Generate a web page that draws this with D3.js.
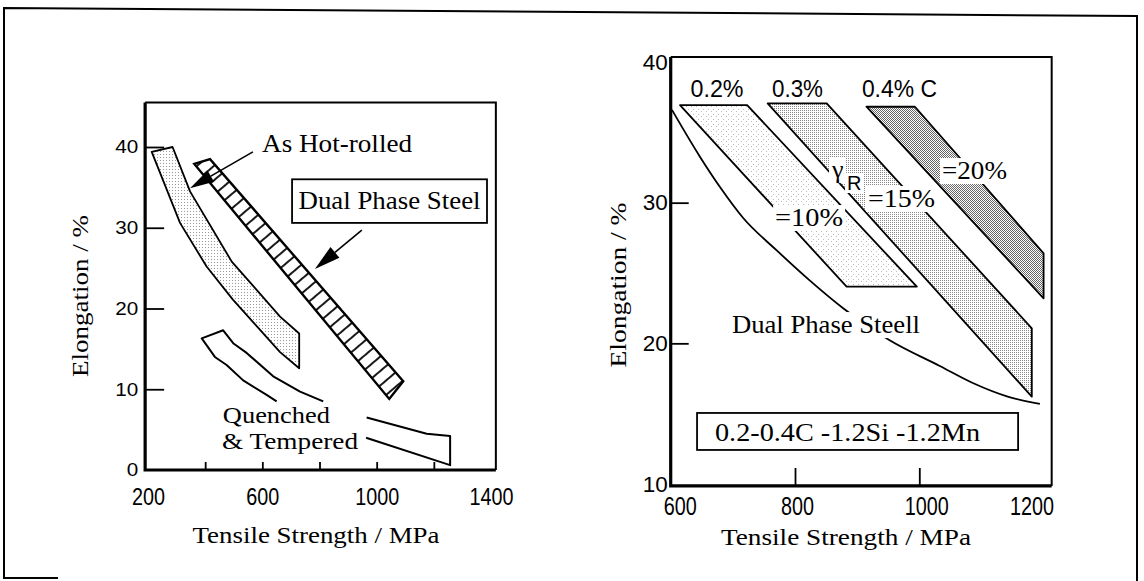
<!DOCTYPE html>
<html>
<head>
<meta charset="utf-8">
<script src="https://cdn.jsdelivr.net/npm/d3@7"></script>
<style>
  body { margin: 0; background: #fff; }
  svg { display: block; }
</style>
</head>
<body>
<div id="chart"></div>
<script>
/**
 * Constants
 */
const width = 1144, height = 581,
    serif = "'Liberation Serif', 'Times New Roman', serif",
    sans = "'Liberation Sans', Arial, sans-serif";

/**
 * Data - left panel (tensile strength MPa, elongation %)
 */
const leftXTicks = [400, 600, 800, 1000, 1200],
    leftXLabels = [200, 600, 1000, 1400],
    leftYTicks = [10, 20, 30, 40],
    leftYLabels = [0, 10, 20, 30, 40];

const hotRolled = [[213, 39.4], [286, 40.0], [347, 34.5], [493, 25.8], [662, 19.0], [729, 16.9],
    [729, 12.6], [662, 14.6], [497, 21.1], [405, 25.2], [312, 30.6]];
const dualPhaseBand = [[362, 37.9], [417, 38.5], [1093, 11.0], [1044, 8.8]];
// quenched & tempered outline is broken by its label, so two open pieces
const quenchedLeft = [[813, 8.5], [732, 9.7], [638, 11.6], [545, 14.5], [498, 15.7], [463, 17.3],
    [388, 16.3], [434, 14.0], [475, 13.0], [533, 11.1], [615, 9.3], [650, 8.5]];
const quenchedRight = [[965, 6.5], [1175, 4.5], [1257, 4.2], [1257, 0.6], [963, 4.0]];

/**
 * Data - right panel
 */
const rightXTicks = [800, 1000],
    rightXLabels = [600, 800, 1000, 1200],
    rightYTicks = [20, 30],
    rightYLabels = [10, 20, 30, 40];

const band02 = [[615, 36.94], [723, 36.94], [996, 24.03], [883, 24.03]];
const band03 = [[756, 37.06], [851, 37.06], [1181, 21.07], [1181, 16.21]];
const band04 = [[915, 36.82], [993, 36.82], [1200, 26.4], [1200, 23.2]];
const dualPhaseCurve = [[602, 36.6], [647, 33.27], [679, 31.13], [717, 28.89], [771, 26.59], [824, 24.46],
    [878, 22.48], [953, 20.2], [1033, 18.39], [1087, 17.16], [1141, 16.23], [1194, 15.69]];

/**
 * Scales
 */
const xL = d3.scaleLinear().domain([200, 1400]).range([148, 491]),
    yL = d3.scaleLinear().domain([0, 40]).range([470, 147]),
    xR = d3.scaleLinear().domain([600, 1200]).range([670.7, 1043.6]),
    yR = d3.scaleLinear().domain([10, 40]).range([484, 62]);

const svg = d3.select("#chart")
    .append("svg")
    .attr("width", width)
    .attr("height", height)
    .style("background", "#fff");

/**
 * Fill patterns (stipple dots + hatch)
 */
const defs = svg.append("defs");
function dotPattern(id, size, cells, color) {
    const p = defs.append("pattern")
        .attr("id", id)
        .attr("patternUnits", "userSpaceOnUse")
        .attr("width", size)
        .attr("height", size);
    p.append("rect").attr("width", size).attr("height", size).attr("fill", "#fff");
    cells.forEach(([cx, cy]) => p.append("rect")
        .attr("x", cx).attr("y", cy)
        .attr("width", 1).attr("height", 1)
        .attr("fill", color));
}
dotPattern("dotsFaint", 5, [[1, 1], [3, 4]], "#bbb");
dotPattern("dotsHot", 3, [[1, 1]], "#999");
dotPattern("dotsMed", 2, [[0, 0]], "#888");
dotPattern("dotsDark", 2, [[0, 0], [1, 1]], "#666");

const hatch = defs.append("pattern")
    .attr("id", "hatch")
    .attr("patternUnits", "userSpaceOnUse")
    .attr("width", 11)
    .attr("height", 11)
    .attr("patternTransform", "rotate(49.6)");
hatch.append("rect").attr("width", 11).attr("height", 11).attr("fill", "#fff");
hatch.append("line")
    .attr("x1", 1).attr("y1", 0).attr("x2", 1).attr("y2", 11)
    .attr("stroke", "#000").attr("stroke-width", 1.8);

/**
 * Outer frame of the figure
 */
svg.append("path")
    .attr("d", "M58,578 H4 V8 L1137,16 V581")
    .attr("fill", "none")
    .attr("stroke", "#000")
    .attr("stroke-width", 2);

/**
 * AXES helper - box, inward ticks and labels
 */
function drawFrame(g, x, y, box, o) {
    const [x0, x1] = box.x.map(x), [y0, y1] = box.y.map(y);
    g.append("path")
        .attr("d", `M${x0},${y1} H${x1} V${y0}`)
        .attr("fill", "none").attr("stroke", "#000").attr("stroke-width", 2);
    g.append("path")
        .attr("d", `M${x0},${y1} V${y0} H${x1}`)
        .attr("fill", "none").attr("stroke", "#000").attr("stroke-width", 3.2);

    // inward tick marks
    const xt = g.append("g")
        .attr("transform", `translate(0,${y0})`)
        .call(d3.axisBottom(x).tickValues(o.xTicks).tickSize(-o.xTickLen).tickFormat(""));
    const yt = g.append("g")
        .attr("transform", `translate(${x0},0)`)
        .call(d3.axisLeft(y).tickValues(o.yTicks).tickSize(-o.yTickLen).tickFormat(""));
    [xt, yt].forEach(s => {
        s.select(".domain").remove();
        s.selectAll("line").attr("stroke-width", 1.8);
    });

    // tick labels (condensed digits, as in the print)
    const xl = g.append("g")
        .attr("transform", `translate(0,${y0})`)
        .call(d3.axisBottom(x).tickValues(o.xLabels).tickSize(0).tickPadding(o.xPad).tickFormat(d3.format("d")));
    xl.select(".domain").remove();
    xl.selectAll("text")
        .attr("font-family", sans).attr("font-size", o.xFont).attr("fill", "#000")
        .attr("dx", (d, i) => o.xNudge ? o.xNudge[i] : 0)
        .attr("textLength", d => String(d).length * o.xDigit)
        .attr("lengthAdjust", "spacingAndGlyphs");

    const yl = g.append("g")
        .attr("transform", `translate(${x0},0)`)
        .call(d3.axisLeft(y).tickValues(o.yLabels).tickSize(0).tickPadding(o.yPad).tickFormat(d3.format("d")));
    yl.select(".domain").remove();
    yl.selectAll("text")
        .attr("font-family", sans).attr("font-size", o.yFont).attr("fill", "#000")
        .attr("textLength", d => String(d).length * o.yDigit)
        .attr("lengthAdjust", "spacingAndGlyphs");
}

function addLabel(g, x, y, s) {
    const holder = g.append("g");
    const bg = holder.append("rect").attr("fill", "#fff");
    const t = holder.append("text")
        .attr("x", x(s.at[0]))
        .attr("y", y(s.at[1]))
        .attr("text-anchor", s.anchor || "start")
        .attr("font-family", s.family || serif)
        .attr("font-size", s.size)
        .attr("fill", "#000")
        .text(s.text);
    if (s.width) t.attr("textLength", s.width).attr("lengthAdjust", "spacingAndGlyphs");
    if (s.mask) {
        const b = t.node().getBBox();
        bg.attr("x", b.x - 2).attr("y", b.y + 2).attr("width", b.width + 4).attr("height", b.height - 3);
    } else bg.remove();
}

function arrow(g, x, y, from, to, len, half) {
    const x1 = x(from[0]), y1 = y(from[1]), x2 = x(to[0]), y2 = y(to[1]);
    const dx = x2 - x1, dy = y2 - y1, d = Math.hypot(dx, dy), ux = dx / d, uy = dy / d;
    const bx = x2 - ux * len, by = y2 - uy * len;
    g.append("line")
        .attr("x1", x1).attr("y1", y1).attr("x2", bx).attr("y2", by)
        .attr("stroke", "#000").attr("stroke-width", 1.6);
    g.append("path")
        .attr("d", `M${x2},${y2} L${bx - uy * half},${by + ux * half} L${bx + uy * half},${by - ux * half} Z`)
        .attr("fill", "#000");
}

/**
 * LEFT PANEL
 */
const gL = svg.append("g");
const lineL = d3.line().x(d => xL(d[0])).y(d => yL(d[1]));

gL.append("path")
    .attr("d", lineL(hotRolled) + "Z")
    .attr("fill", "url(#dotsHot)")
    .attr("stroke", "#000").attr("stroke-width", 1.8).attr("stroke-linejoin", "round");

gL.append("path")
    .attr("d", lineL(dualPhaseBand) + "Z")
    .attr("fill", "url(#hatch)")
    .attr("stroke", "#000").attr("stroke-width", 2.4);

[quenchedLeft, quenchedRight].forEach(pts => gL.append("path")
    .attr("d", lineL(pts))
    .attr("fill", "none")
    .attr("stroke", "#000").attr("stroke-width", 2).attr("stroke-linejoin", "round"));

drawFrame(gL, xL, yL, { x: [190, 1417], y: [0, 45.5] }, {
    xTicks: leftXTicks, xLabels: leftXLabels, yTicks: leftYTicks, yLabels: leftYLabels,
    xTickLen: 8, yTickLen: 19, xPad: 18, yPad: 7, xFont: 24, yFont: 18, xDigit: 11, yDigit: 11.5
});

// "Dual Phase Steel" callout box
gL.append("rect")
    .attr("x", xL(704)).attr("y", yL(36.0))
    .attr("width", xL(1386) - xL(704)).attr("height", yL(30.6) - yL(36.0))
    .attr("fill", "#fff").attr("stroke", "#000").attr("stroke-width", 1.8);

arrow(gL, xL, yL, [567, 39.4], [347, 34.9], 24, 6.5);
arrow(gL, xL, yL, [948, 29.7], [784, 24.9], 26, 7);

[
    { text: "As Hot-rolled", at: [599, 39.4], size: 26, width: 150 },
    { text: "Dual Phase Steel", at: [1045, 32.3], size: 26, width: 182, anchor: "middle" },
    { text: "Quenched", at: [462, 5.8], size: 24, width: 107 },
    { text: "& Tempered", at: [459, 2.6], size: 24, width: 136 }
].forEach(s => addLabel(gL, xL, yL, s));

gL.append("text")
    .attr("transform", "translate(88,296) rotate(-90)")
    .attr("text-anchor", "middle")
    .attr("font-family", serif).attr("font-size", 24)
    .attr("textLength", 162).attr("lengthAdjust", "spacingAndGlyphs")
    .text("Elongation / %");
gL.append("text")
    .attr("x", 316).attr("y", 543)
    .attr("text-anchor", "middle")
    .attr("font-family", serif).attr("font-size", 24)
    .attr("textLength", 247).attr("lengthAdjust", "spacingAndGlyphs")
    .text("Tensile Strength / MPa");

/**
 * RIGHT PANEL
 */
const gR = svg.append("g");
const lineR = d3.line().x(d => xR(d[0])).y(d => yR(d[1]));

[[band02, "url(#dotsFaint)"], [band03, "url(#dotsMed)"], [band04, "url(#dotsDark)"]].forEach(([pts, fill]) =>
    gR.append("path")
        .attr("d", lineR(pts) + "Z")
        .attr("fill", fill)
        .attr("stroke", "#000").attr("stroke-width", 1.8).attr("stroke-linejoin", "round"));

gR.append("path")
    .attr("d", d3.line().x(d => xR(d[0])).y(d => yR(d[1])).curve(d3.curveMonotoneX)(dualPhaseCurve))
    .attr("fill", "none")
    .attr("stroke", "#000").attr("stroke-width", 1.8);

[
    { text: "0.2%", at: [674.5, 37.51], size: 23, family: sans, width: 53, anchor: "middle" },
    { text: "0.3%", at: [804, 37.51], size: 23, family: sans, width: 51, anchor: "middle" },
    { text: "0.4% C", at: [968, 37.51], size: 23, family: sans, width: 75, anchor: "middle" },
    { text: "=10%", at: [768, 28.34], size: 26, width: 68, mask: true },
    { text: "γ", at: [859.5, 31.75], size: 26, mask: true },
    { text: "R", at: [883.7, 30.9], size: 20, family: sans, mask: true },
    { text: "=15%", at: [917.5, 29.69], size: 26, width: 67, mask: true },
    { text: "=20%", at: [1036.5, 31.68], size: 26, width: 65, mask: true },
    { text: "Dual Phase Steell", at: [698.6, 20.73], size: 26, width: 188, mask: true }
].forEach(s => addLabel(gR, xR, yR, s));

drawFrame(gR, xR, yR, { x: [600, 1213], y: [9.86, 40.35] }, {
    xTicks: rightXTicks, xLabels: rightXLabels, yTicks: rightYTicks, yLabels: rightYLabels,
    xTickLen: 18, yTickLen: 18, xPad: 11, yPad: 3, xFont: 25, yFont: 22, xDigit: 11, yDigit: 12.5,
    xNudge: [9, 2, 7, -12]
});

// composition box
gR.append("rect")
    .attr("x", xR(642.4)).attr("y", yR(15.05))
    .attr("width", xR(1159) - xR(642.4)).attr("height", yR(12.42) - yR(15.05))
    .attr("fill", "#fff").attr("stroke", "#000").attr("stroke-width", 1.8);
addLabel(gR, xR, yR, { text: "0.2-0.4C -1.2Si -1.2Mn", at: [671.3, 13.06], size: 26, width: 265 });

gR.append("text")
    .attr("transform", "translate(626,285) rotate(-90)")
    .attr("text-anchor", "middle")
    .attr("font-family", serif).attr("font-size", 24)
    .attr("textLength", 165).attr("lengthAdjust", "spacingAndGlyphs")
    .text("Elongation / %");
gR.append("text")
    .attr("x", 846).attr("y", 545)
    .attr("text-anchor", "middle")
    .attr("font-family", serif).attr("font-size", 24)
    .attr("textLength", 250).attr("lengthAdjust", "spacingAndGlyphs")
    .text("Tensile Strength / MPa");
</script>
</body>
</html>
